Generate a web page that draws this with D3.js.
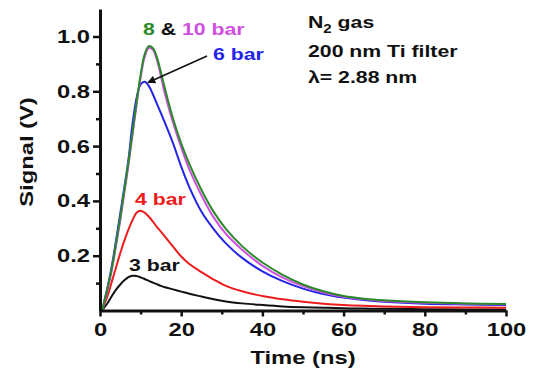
<!DOCTYPE html>
<html>
<head>
<meta charset="utf-8">
<script src="https://cdn.jsdelivr.net/npm/d3@7"></script>
<style>
  body { margin: 0; background: #fff; }
  svg { display: block; font-family: "Liberation Sans", Arial, sans-serif; font-weight: bold; }
</style>
</head>
<body>
<svg id="chart" width="533" height="376"></svg>
<script>
// time axis (ns) and signals (V)
const timeNs = [0, 0.5, 1, 2, 3, 4, 5, 6, 7, 8, 9, 10, 11, 12, 13, 14, 15, 16, 18, 20, 22, 25, 28, 31, 35, 40, 45, 50, 55, 60, 65, 70, 80, 90, 100];
const bar3  = [0, 0, 0.01, 0.03, 0.055, 0.077, 0.095, 0.11, 0.122, 0.127, 0.126, 0.121, 0.115, 0.108, 0.102, 0.096, 0.09, 0.085, 0.077, 0.069, 0.061, 0.051, 0.041, 0.033, 0.026, 0.02, 0.015, 0.012, 0.01, 0.008, 0.007, 0.006, 0.005, 0.004, 0.004];
const bar4  = [0, 0, 0.02, 0.06, 0.11, 0.16, 0.21, 0.255, 0.295, 0.33, 0.357, 0.364, 0.357, 0.343, 0.325, 0.305, 0.288, 0.27, 0.233, 0.197, 0.17, 0.14, 0.113, 0.09, 0.07, 0.053, 0.041, 0.032, 0.025, 0.02, 0.017, 0.015, 0.012, 0.011, 0.01];
const bar6  = [0, 0, 0.03, 0.095, 0.17, 0.26, 0.355, 0.45, 0.55, 0.68, 0.775, 0.825, 0.835, 0.82, 0.79, 0.755, 0.72, 0.685, 0.61, 0.525, 0.45, 0.36, 0.297, 0.245, 0.192, 0.143, 0.107, 0.08, 0.06, 0.047, 0.038, 0.032, 0.025, 0.022, 0.02];
const bar10 = [0, 0, 0.028, 0.085, 0.155, 0.24, 0.33, 0.43, 0.53, 0.64, 0.75, 0.85, 0.925, 0.958, 0.952, 0.915, 0.855, 0.79, 0.685, 0.595, 0.515, 0.42, 0.34, 0.28, 0.222, 0.163, 0.12, 0.089, 0.066, 0.05, 0.041, 0.035, 0.028, 0.025, 0.023];
const bar8  = [0, 0, 0.03, 0.09, 0.16, 0.25, 0.34, 0.44, 0.54, 0.65, 0.76, 0.86, 0.935, 0.965, 0.958, 0.925, 0.87, 0.81, 0.70, 0.61, 0.535, 0.44, 0.36, 0.298, 0.235, 0.175, 0.13, 0.095, 0.07, 0.053, 0.043, 0.037, 0.030, 0.026, 0.024];

const xTicks = [0, 20, 40, 60, 80, 100];
const xMinor = [10, 30, 50, 70, 90];
const yTicks = [0.2, 0.4, 0.6, 0.8, 1.0];
const yMinor = [0.1, 0.3, 0.5, 0.7, 0.9];

const series = [
  { values: bar3, color: '#111111' },
  { values: bar4, color: '#ee1c1c' },
  { values: bar6, color: '#2424e8' },
  { values: bar10, color: '#d050e0' },
  { values: bar8, color: '#2a8a2a' }
];

const svg = d3.select('#chart');
const SX = 1.25; // text in the picture is drawn wide

const x = d3.scaleLinear().domain([0, 100]).range([100, 506]);
const y = d3.scaleLinear().domain([0, 1.1]).range([310.5, 9.1]);

// text helper: wide bold text
function wideText(g, tx, ty, str, size, color, anchor) {
  return g.append('text')
    .attr('transform', `translate(${tx},${ty}) scale(${SX},1)`)
    .attr('text-anchor', anchor || 'start')
    .style('font-size', size + 'px')
    .attr('fill', color || '#111')
    .text(str);
}

// lines
const line = d3.line()
  .x((d, i) => x(timeNs[i]))
  .y(d => y(d))
  .curve(d3.curveCatmullRom.alpha(0.5));

svg.append('g').selectAll('path')
  .data(series)
  .enter()
  .append('path')
  .attr('d', d => line(d.values))
  .attr('fill', 'none')
  .attr('stroke', d => d.color)
  .attr('stroke-width', 2);

// axes
const xAxis = svg.append('g')
  .attr('transform', `translate(0,${y(0)})`)
  .call(d3.axisBottom(x).tickValues(xTicks).tickSize(6).tickSizeOuter(0).tickPadding(6).tickFormat(d3.format('d')));
svg.append('g')
  .attr('transform', `translate(0,${y(0)})`)
  .call(d3.axisBottom(x).tickValues(xMinor).tickSize(4).tickSizeOuter(0).tickFormat(''))
  .select('.domain').remove();

const yAxis = svg.append('g')
  .attr('transform', `translate(${x(0)},0)`)
  .call(d3.axisLeft(y).tickValues(yTicks).tickSize(7).tickSizeOuter(0).tickPadding(3).tickFormat(d3.format('.1f')));
svg.append('g')
  .attr('transform', `translate(${x(0)},0)`)
  .call(d3.axisLeft(y).tickValues(yMinor).tickSize(4).tickSizeOuter(0).tickFormat(''))
  .select('.domain').remove();

svg.selectAll('.domain').attr('stroke', '#111').attr('stroke-width', 3);
svg.selectAll('.tick line').attr('stroke', '#111').attr('stroke-width', 2.5);

xAxis.selectAll('.tick text')
  .attr('fill', '#111')
  .style('font-size', '19px')
  .style('font-family', '"Liberation Sans", Arial, sans-serif')
  .style('font-weight', 'bold')
  .attr('transform', `scale(${SX},1)`);
yAxis.selectAll('.tick text')
  .attr('fill', '#111')
  .style('font-size', '19px')
  .style('font-family', '"Liberation Sans", Arial, sans-serif')
  .style('font-weight', 'bold')
  .attr('x', -10 / SX)
  .attr('transform', `scale(${SX},1)`);

// axis titles
wideText(svg, 303, 364, 'Time (ns)', 19, '#111', 'middle');
svg.append('text')
  .attr('transform', `translate(33,152) rotate(-90) scale(${SX},1)`)
  .attr('text-anchor', 'middle')
  .style('font-size', '19px')
  .attr('fill', '#111')
  .text('Signal (V)');

// annotations
const note = svg.append('text')
  .attr('transform', `translate(143,35) scale(${SX},1)`)
  .style('font-size', '17px');
note.append('tspan').attr('fill', '#2a8a2a').text('8');
note.append('tspan').attr('fill', '#111').text(' & ');
note.append('tspan').attr('fill', '#d050e0').text('10 bar');

wideText(svg, 213, 60, '6 bar', 17, '#2424e8');
wideText(svg, 135, 205, '4 bar', 17, '#ee1c1c');
wideText(svg, 129, 271, '3 bar', 17, '#111');

// arrow to the 6 bar peak
svg.append('defs').append('marker')
  .attr('id', 'head')
  .attr('viewBox', '0 0 10 10')
  .attr('refX', 9).attr('refY', 5)
  .attr('markerWidth', 10).attr('markerHeight', 8)
  .attr('markerUnits', 'userSpaceOnUse')
  .attr('orient', 'auto')
  .append('path')
  .attr('d', 'M0,0 L10,5 L0,10 Z')
  .attr('fill', '#111');
svg.append('line')
  .attr('x1', 207).attr('y1', 56)
  .attr('x2', 148).attr('y2', 82.5)
  .attr('stroke', '#111').attr('stroke-width', 1.6)
  .attr('marker-end', 'url(#head)');

// info block
const n2 = svg.append('text')
  .attr('transform', `translate(308,28) scale(${SX},1)`)
  .style('font-size', '17px')
  .attr('fill', '#111');
n2.append('tspan').text('N');
n2.append('tspan').attr('dy', 5).style('font-size', '12px').text('2');
n2.append('tspan').attr('dy', -5).text(' gas');
wideText(svg, 308, 57, '200 nm Ti filter', 17, '#111');
wideText(svg, 308, 83, 'λ= 2.88 nm', 17, '#111');
</script>
</body>
</html>
